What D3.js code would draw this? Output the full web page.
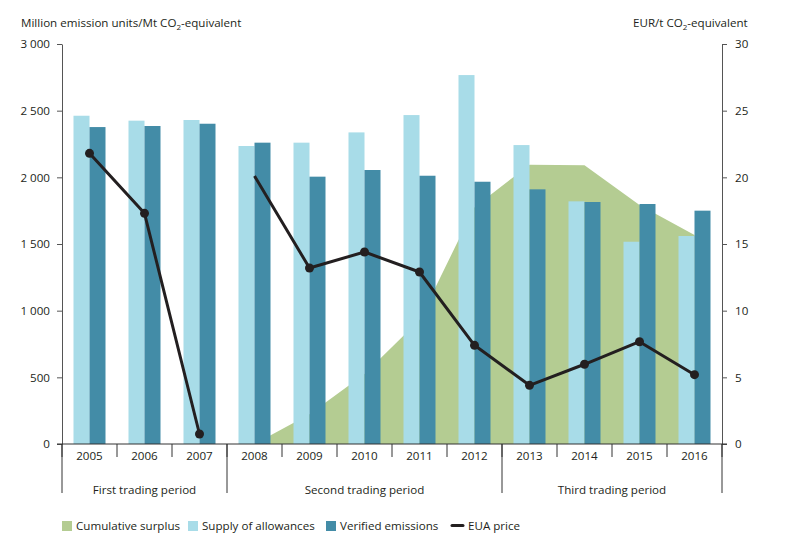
<!DOCTYPE html>
<html><head><meta charset="utf-8">
<script src="https://cdn.jsdelivr.net/npm/d3@7"></script>
<style>
body{margin:0;background:#fff}
text{font-family:"Open Sans",sans-serif;fill:#231f20;font-size:11.6px}
</style>
</head><body>
<svg id="c" width="811" height="541"></svg>
<script>
// ---- data ----
const years = ["2005","2006","2007","2008","2009","2010","2011","2012","2013","2014","2015","2016"];
const supply = [2462,2425,2430,2235,2260,2337,2467,2767,2242,1820,1517,1560];
const verified = [2377,2385,2402,2260,2005,2055,2012,1967,1910,1815,1800,1750];
const surplusYears = ["2008","2009","2010","2011","2012","2013","2014","2015","2016"];
const surplus = [0,223,525,930,1775,2095,2090,1792,1567];
const price = [21.8,17.3,0.75,20.1,13.2,14.4,12.9,7.4,4.4,5.98,7.67,5.2];
const priceSegments = [["2005","2006","2007"],["2008","2009","2010","2011","2012","2013","2014","2015","2016"]];
const priceNoMarker = ["2008"];
const periods = ["First trading period","Second trading period","Third trading period"];
const periodStart = ["2005","2008","2013"];
const periodEnd = ["2007","2012","2016"];
const leftTicks = [0,500,1000,1500,2000,2500,3000];
const leftTickLabels = ["0","500","1 000","1 500","2 000","2 500","3 000"];
const rightTicks = [0,5,10,15,20,25,30];
const rightTickLabels = ["0","5","10","15","20","25","30"];
const legendLabels = ["Cumulative surplus","Supply of allowances","Verified emissions","EUA price"];

// ---- layout ----
const C = {light:"#a8dce8", dark:"#438ca7", green:"#b4cc92", line:"#231f20", axis:"#555"};
const FS = "11.6px";
const svg = d3.select("#c");
const L = 62, R = 722, T = 44, B = 444;
const x = d3.scaleBand().domain(years).range([L,R]).padding(0);
const yL = d3.scaleLinear().domain([0,3000]).range([B,T]);
const yR = d3.scaleLinear().domain([0,30]).range([B,T]);
const bw = 16;
const cx = d => x(d) + x.bandwidth()/2;

// area
const area = d3.area().x((d,i)=>cx(surplusYears[i])).y0(B).y1(d=>yL(d));
svg.append("path").datum(surplus).attr("d",area).attr("fill",C.green);

// bars
svg.append("g").selectAll("rect").data(supply).join("rect")
  .attr("x",(d,i)=>cx(years[i])-bw).attr("width",bw)
  .attr("y",d=>yL(d)).attr("height",d=>B-yL(d)).attr("fill",C.light);
svg.append("g").selectAll("rect").data(verified).join("rect")
  .attr("x",(d,i)=>cx(years[i])).attr("width",bw)
  .attr("y",d=>yL(d)).attr("height",d=>B-yL(d)).attr("fill",C.dark);

// axes
const gl = svg.append("g").attr("transform",`translate(${L},0)`)
  .call(d3.axisLeft(yL).tickValues(leftTicks).tickSize(5).tickSizeOuter(0).tickPadding(7)
    .tickFormat((d,i)=>leftTickLabels[i]));
const gr = svg.append("g").attr("transform",`translate(${R},0)`)
  .call(d3.axisRight(yR).tickValues(rightTicks).tickSize(5).tickSizeOuter(0).tickPadding(8)
    .tickFormat((d,i)=>rightTickLabels[i]));
[gl,gr].forEach(g=>{
  g.selectAll("path,line").attr("stroke",C.axis);
  g.selectAll("text").style("font-family","'Open Sans',sans-serif").style("font-size",FS).attr("fill","#231f20");
});

// x axis
const gx = svg.append("g");
gx.append("line").attr("x1",L-5).attr("x2",R+5).attr("y1",B).attr("y2",B).attr("stroke","#333");
const bounds = years.map(d=>x(d)).concat([R]);
gx.selectAll("line.t").data(bounds).join("line").attr("class","t")
  .attr("x1",d=>d).attr("x2",d=>d).attr("y1",B).attr("y2",B+13).attr("stroke","#333");
gx.selectAll("text.y").data(years).join("text").attr("class","y")
  .attr("x",d=>cx(d)).attr("y",B+16).attr("text-anchor","middle").text(d=>d);
const pb = periodStart.map(d=>x(d)).concat([R]);
gx.selectAll("line.p").data(pb).join("line").attr("class","p")
  .attr("x1",d=>d).attr("x2",d=>d).attr("y1",B).attr("y2",B+49).attr("stroke","#333");
gx.selectAll("text.p").data(periods).join("text").attr("class","p")
  .attr("x",(d,i)=>(x(periodStart[i])+x(periodEnd[i])+x.bandwidth())/2)
  .attr("y",B+50).attr("text-anchor","middle").text(d=>d);

// price line
const line = d3.line().x(d=>cx(d)).y(d=>yR(price[years.indexOf(d)]));
priceSegments.forEach(seg=>{
  svg.append("path").datum(seg).attr("d",line).attr("fill","none")
    .attr("stroke",C.line).attr("stroke-width",3).attr("stroke-linejoin","round");
});
svg.append("g").selectAll("circle").data(years.filter(d=>!priceNoMarker.includes(d))).join("circle")
  .attr("cx",d=>cx(d)).attr("cy",d=>yR(price[years.indexOf(d)])).attr("r",4.5).attr("fill",C.line);

// titles
function title(xp, pre){
  const t = svg.append("text").attr("x",xp).attr("y",27);
  t.append("tspan").text(pre+"CO");
  t.append("tspan").attr("dy",3).style("font-size","8px").text("2");
  t.append("tspan").attr("dy",-3).text("-equivalent");
}
title(21,"Million emission units/Mt ");
title(633,"EUR/t ");

// legend
const lg = svg.append("g");
const lx = [62,188,326,452];
const lc = [C.green,C.light,C.dark];
[0,1,2].forEach(i=>{
  lg.append("rect").attr("x",lx[i]).attr("y",521).attr("width",10).attr("height",10).attr("fill",lc[i]);
  lg.append("text").attr("x",lx[i]+14).attr("y",530).text(legendLabels[i]);
});
lg.append("line").attr("x1",lx[3]).attr("x2",lx[3]+11).attr("y1",525.5).attr("y2",525.5)
  .attr("stroke",C.line).attr("stroke-width",3).attr("stroke-linecap","round");
lg.append("text").attr("x",lx[3]+16).attr("y",530).text(legendLabels[3]);
</script>
</body></html>
